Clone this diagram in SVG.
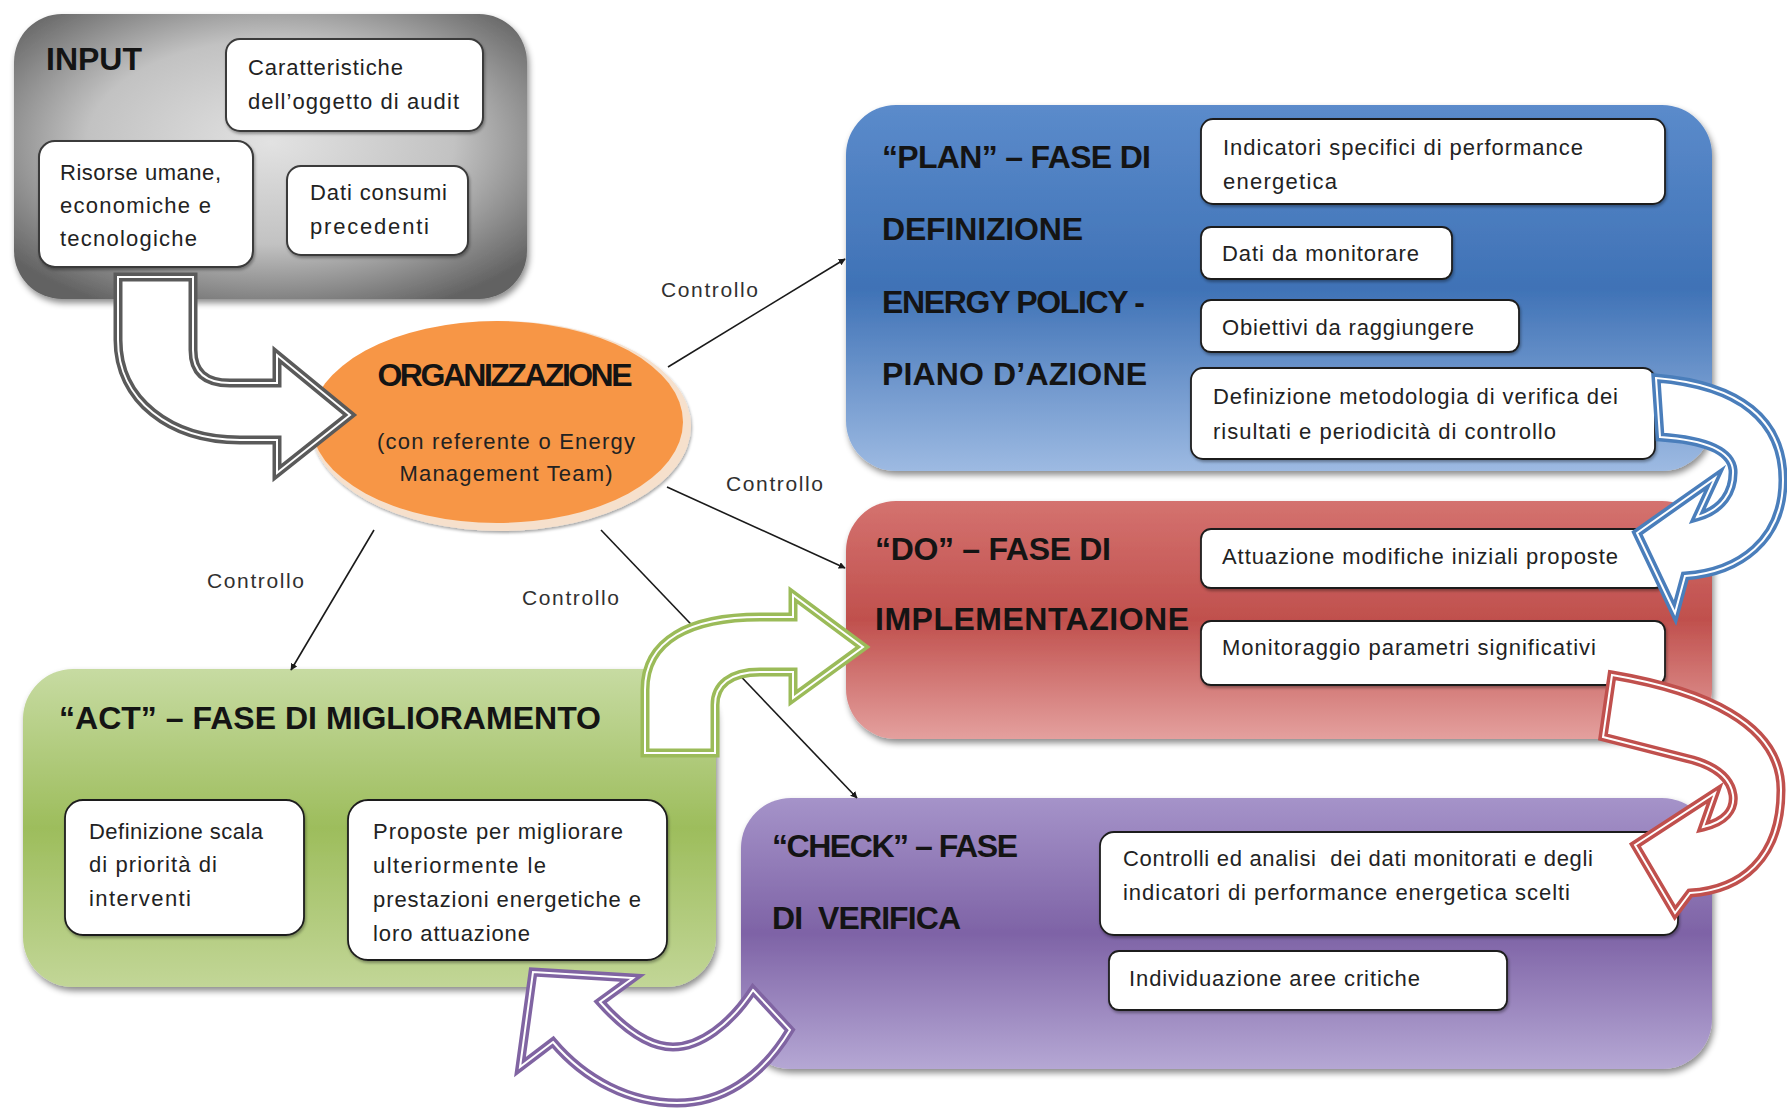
<svg xmlns="http://www.w3.org/2000/svg" xmlns:xlink="http://www.w3.org/1999/xlink" width="1787" height="1111" viewBox="0 0 1787 1111">
  <style>
    .title { font-family: "Liberation Sans", Arial, sans-serif; font-weight: bold; font-size: 32px; fill: #141414; }
    .item  { font-family: "Liberation Sans", Arial, sans-serif; font-size: 22px; fill: #222; }
    .lbl   { font-family: "Liberation Sans", Arial, sans-serif; font-size: 21px; fill: #303030; }
    .card  { fill: #fff; stroke: #1e1e1e; stroke-width: 1.8; filter: url(#cardShadow); }
    .card-g { fill: #fff; stroke: #3a3a3a; stroke-width: 2; filter: url(#cardShadow); }
    .phase { filter: url(#boxShadow); }
    .link  { stroke: #1a1a1a; stroke-width: 1.6; fill: none; marker-end: url(#tri); }
    .fa-out { fill: #fff; stroke-width: 9; stroke-linejoin: miter; }
    .fa-in  { fill: none; stroke: #fff; stroke-width: 2; stroke-linejoin: miter; }
  </style>
  <defs>
    <filter id="boxShadow" x="-5%" y="-5%" width="112%" height="118%">
      <feDropShadow dx="2" dy="4" stdDeviation="3" flood-color="#000" flood-opacity="0.45"/>
    </filter>
    <filter id="cardShadow" x="-5%" y="-10%" width="112%" height="125%">
      <feDropShadow dx="1" dy="2" stdDeviation="1.5" flood-color="#000" flood-opacity="0.35"/>
    </filter>
    <marker id="tri" viewBox="0 0 10 10" refX="9" refY="5" markerWidth="7" markerHeight="7" orient="auto" markerUnits="userSpaceOnUse">
      <path d="M0,0 L10,5 L0,10 z" fill="#1a1a1a"/>
    </marker>
    <radialGradient id="gGray" cx="50%" cy="45%" r="65%">
      <stop offset="0" stop-color="#e2e2e2"/>
      <stop offset="0.55" stop-color="#c2c2c2"/>
      <stop offset="1" stop-color="#626262"/>
    </radialGradient>
    <linearGradient id="gBlue" x1="0" y1="0" x2="0" y2="1">
      <stop offset="0" stop-color="#5b8bcb"/>
      <stop offset="0.5" stop-color="#3f72b6"/>
      <stop offset="1" stop-color="#9dbae2"/>
    </linearGradient>
    <linearGradient id="gRed" x1="0" y1="0" x2="0" y2="1">
      <stop offset="0" stop-color="#d4726f"/>
      <stop offset="0.5" stop-color="#c0504d"/>
      <stop offset="1" stop-color="#e4a09e"/>
    </linearGradient>
    <linearGradient id="gPurple" x1="0" y1="0" x2="0" y2="1">
      <stop offset="0" stop-color="#a593c9"/>
      <stop offset="0.5" stop-color="#7e63a6"/>
      <stop offset="1" stop-color="#b5a7d4"/>
    </linearGradient>
    <linearGradient id="gGreen" x1="0" y1="0" x2="0" y2="1">
      <stop offset="0" stop-color="#c7dba2"/>
      <stop offset="0.5" stop-color="#9dbd5c"/>
      <stop offset="1" stop-color="#c2d697"/>
    </linearGradient>
    <!-- block arrow outlines -->
    <path id="arrowGray" d="M118,277 L193,277 L193,350 C193,372 205,383 230,383 L277,383 L277,355 L350,415 L277,473 L277,440 L240,440 C170,440 118,400 118,340 Z"/>
    <path id="arrowGreen" d="M645,753 L645,690 C645,640 690,617 760,617 L793,617 L793,595 L863,647 L793,698 L793,672 L760,672 C730,672 715,685 715,705 L715,753 Z"/>
    <path id="arrowBlue" d="M1656,378 C1740,385 1783,420 1783,480 C1783,540 1740,572 1685,576 L1675,613 L1637,533 L1715,478 L1697,517 C1722,510 1734,492 1733,470 C1731,450 1705,440 1660,437 Z"/>
    <path id="arrowRed" d="M1612,675 C1700,690 1781,722 1781,790 C1781,860 1740,890 1690,893 L1675,913 L1635,845 L1715,793 L1703,827 C1725,822 1735,810 1733,795 C1730,775 1710,765 1693,760 L1603,737 Z"/>
    <path id="arrowPurple" d="M753,990 L790,1030 C760,1080 720,1103 677,1103 C630,1103 585,1080 553,1042 L520,1067 L533,972 L633,978 L600,1002 C625,1030 650,1047 673,1047 C700,1047 730,1025 753,990 Z"/>
  </defs>

  <rect width="1787" height="1111" fill="#fff"/>

  <!-- INPUT -->
  <g id="input">
    <rect class="phase" x="14" y="14" width="513" height="285" rx="48" fill="url(#gGray)"/>
    <text class="title" x="46" y="70" textLength="96">INPUT</text>
    <rect class="card-g" x="226" y="39" width="257" height="92" rx="14"/>
    <text class="item" x="248" y="75" textLength="155">Caratteristiche</text>
    <text class="item" x="248" y="109" textLength="211">dell’oggetto di audit</text>
    <rect class="card-g" x="39" y="141" width="214" height="126" rx="16"/>
    <text class="item" x="60" y="180" textLength="161">Risorse umane,</text>
    <text class="item" x="60" y="213" textLength="151">economiche e</text>
    <text class="item" x="60" y="246" textLength="137">tecnologiche</text>
    <rect class="card-g" x="287" y="166" width="181" height="89" rx="14"/>
    <text class="item" x="310" y="200" textLength="137">Dati consumi</text>
    <text class="item" x="310" y="234" textLength="119">precedenti</text>
  </g>

  <!-- PLAN -->
  <g id="plan">
    <rect class="phase" x="846" y="105" width="866" height="366" rx="50" fill="url(#gBlue)"/>
    <text class="title" x="882" y="168" textLength="269">“PLAN” – FASE DI</text>
    <text class="title" x="882" y="240" textLength="201">DEFINIZIONE</text>
    <text class="title" x="882" y="313" textLength="263">ENERGY POLICY -</text>
    <text class="title" x="882" y="385" textLength="265">PIANO D’AZIONE</text>
    <rect class="card" x="1201" y="119" width="464" height="85" rx="12"/>
    <text class="item" x="1223" y="155" textLength="360">Indicatori specifici di performance</text>
    <text class="item" x="1223" y="189" textLength="114">energetica</text>
    <rect class="card" x="1201" y="227" width="251" height="52" rx="10"/>
    <text class="item" x="1222" y="261" textLength="197">Dati da monitorare</text>
    <rect class="card" x="1201" y="300" width="318" height="52" rx="10"/>
    <text class="item" x="1222" y="335" textLength="252">Obiettivi da raggiungere</text>
    <rect class="card" x="1191" y="368" width="464" height="91" rx="12"/>
    <text class="item" x="1213" y="404" textLength="405">Definizione metodologia di verifica dei</text>
    <text class="item" x="1213" y="439" textLength="343">risultati e periodicità di controllo</text>
  </g>

  <!-- DO -->
  <g id="do">
    <rect class="phase" x="846" y="501" width="866" height="238" rx="50" fill="url(#gRed)"/>
    <text class="title" x="875" y="560" textLength="236">“DO” – FASE DI</text>
    <text class="title" x="875" y="630" textLength="314">IMPLEMENTAZIONE</text>
    <rect class="card" x="1201" y="529" width="464" height="59" rx="10"/>
    <text class="item" x="1222" y="564" textLength="396">Attuazione modifiche iniziali proposte</text>
    <rect class="card" x="1201" y="621" width="464" height="64" rx="10"/>
    <text class="item" x="1222" y="655" textLength="374">Monitoraggio parametri significativi</text>
  </g>

  <!-- CHECK -->
  <g id="check">
    <rect class="phase" x="741" y="798" width="971" height="271" rx="50" fill="url(#gPurple)"/>
    <text class="title" x="772" y="857" textLength="246">“CHECK” – FASE</text>
    <text class="title" x="772" y="929" textLength="189" xml:space="preserve">DI  VERIFICA</text>
    <rect class="card" x="1100" y="832" width="578" height="103" rx="14"/>
    <text class="item" x="1123" y="866" textLength="470" xml:space="preserve">Controlli ed analisi  dei dati monitorati e degli</text>
    <text class="item" x="1123" y="900" textLength="447">indicatori di performance energetica scelti</text>
    <rect class="card" x="1109" y="951" width="398" height="59" rx="10"/>
    <text class="item" x="1129" y="986" textLength="291">Individuazione aree critiche</text>
  </g>

  <!-- ACT -->
  <g id="act">
    <rect class="phase" x="23" y="669" width="693" height="318" rx="50" fill="url(#gGreen)"/>
    <text class="title" x="59" y="729" textLength="542">“ACT” – FASE DI MIGLIORAMENTO</text>
    <rect class="card" x="65" y="800" width="239" height="135" rx="18"/>
    <text class="item" x="89" y="839" textLength="174">Definizione scala</text>
    <text class="item" x="89" y="872" textLength="128">di priorità di</text>
    <text class="item" x="89" y="906" textLength="102">interventi</text>
    <rect class="card" x="348" y="800" width="319" height="160" rx="20"/>
    <text class="item" x="373" y="839" textLength="250">Proposte per migliorare</text>
    <text class="item" x="373" y="873" textLength="173">ulteriormente le</text>
    <text class="item" x="373" y="907" textLength="268">prestazioni energetiche e</text>
    <text class="item" x="373" y="941" textLength="157">loro attuazione</text>
  </g>

  <!-- ORGANIZZAZIONE -->
  <g id="organizzazione">
    <ellipse cx="501" cy="426" rx="190" ry="105" fill="#f6e0cc" filter="url(#cardShadow)"/>
    <ellipse cx="497" cy="422" rx="186" ry="101" fill="#f79646"/>
    <text class="title" x="505" y="386" text-anchor="middle" font-size="26" textLength="255" fill="#2e1403">ORGANIZZAZIONE</text>
    <text class="item" x="506" y="449" text-anchor="middle" font-size="22" textLength="258" fill="#5a2f0c">(con referente o Energy</text>
    <text class="item" x="506" y="481" text-anchor="middle" font-size="22" textLength="213" fill="#5a2f0c">Management Team)</text>
  </g>

  <!-- connectors: control lines and cycle arrows -->
  <g id="connectors">
    <line class="link" x1="668" y1="367" x2="845" y2="259"/>
    <line class="link" x1="667" y1="487" x2="845" y2="568"/>
    <line class="link" x1="374" y1="530" x2="291" y2="670"/>
    <line class="link" x1="601" y1="530" x2="857" y2="798"/>
    <text class="lbl" x="661" y="297" textLength="97">Controllo</text>
    <text class="lbl" x="726" y="491" textLength="97">Controllo</text>
    <text class="lbl" x="207" y="588" textLength="97">Controllo</text>
    <text class="lbl" x="522" y="605" textLength="97">Controllo</text>

    <use href="#arrowGray" class="fa-out" stroke="#5a5a5a"/>
    <use href="#arrowGray" class="fa-in"/>
    <use href="#arrowGreen" class="fa-out" stroke="#9bbb59"/>
    <use href="#arrowGreen" class="fa-in"/>
    <use href="#arrowBlue" class="fa-out" stroke="#4a7ebb"/>
    <use href="#arrowBlue" class="fa-in"/>
    <use href="#arrowRed" class="fa-out" stroke="#c0504d"/>
    <use href="#arrowRed" class="fa-in"/>
    <use href="#arrowPurple" class="fa-out" stroke="#8064a2"/>
    <use href="#arrowPurple" class="fa-in"/>
  </g>
</svg>
